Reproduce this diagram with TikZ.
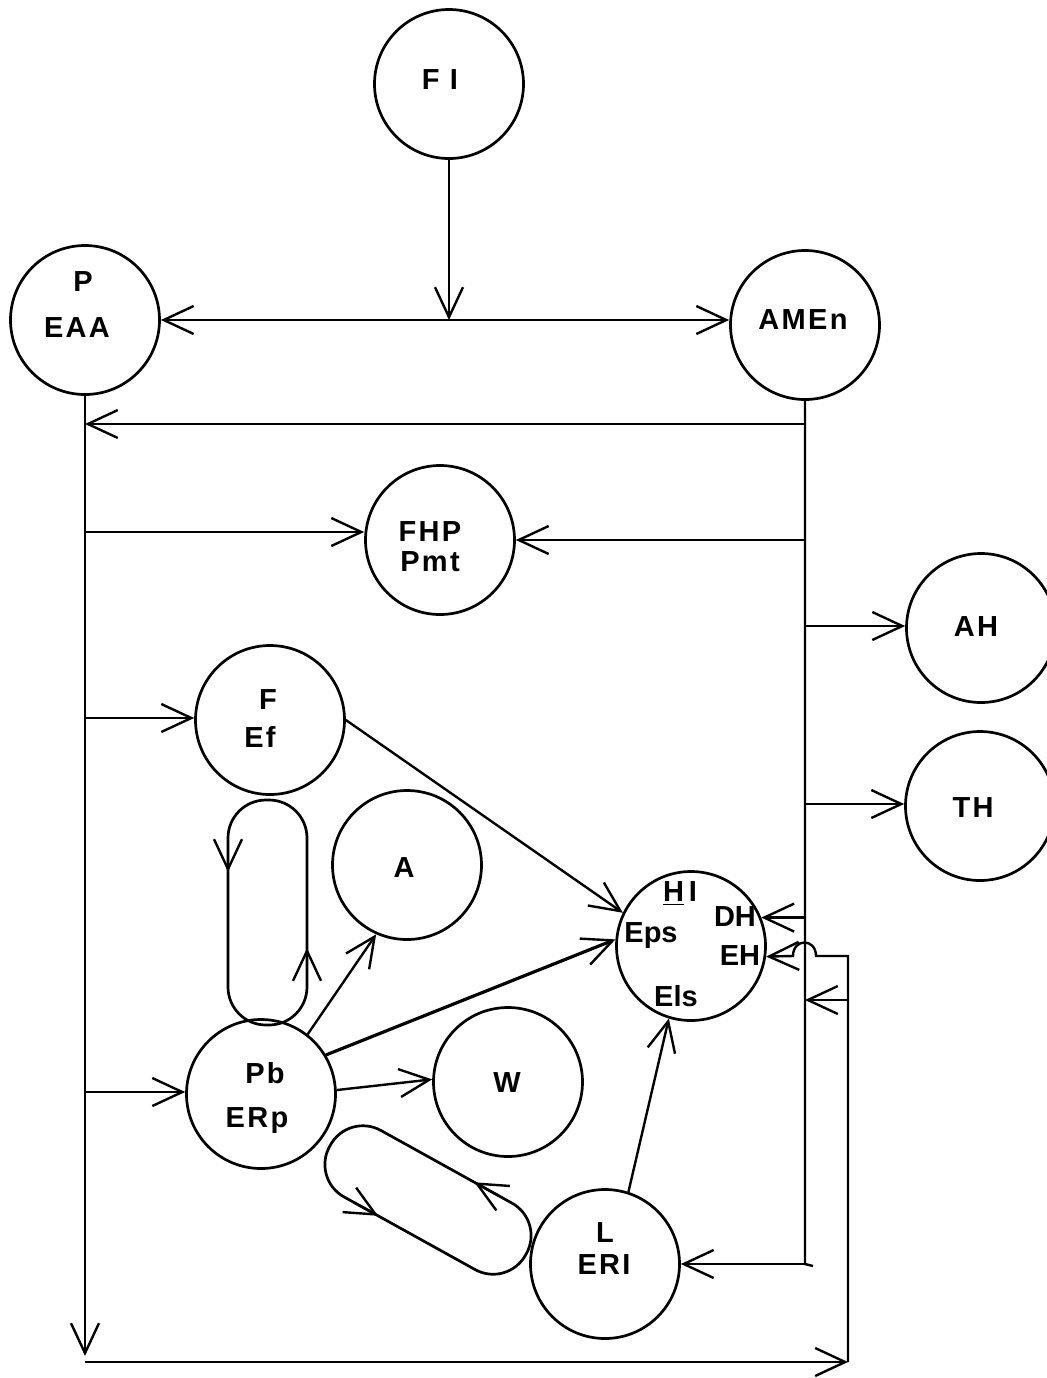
\documentclass[tikz,border=0pt]{standalone}
\usepackage{fontspec}
\setmainfont{Liberation Sans}
\newfontfamily\lsfont[LetterSpace=8]{Liberation Sans}
\usetikzlibrary{arrows.meta,calc}
\begin{document}
\begin{tikzpicture}[x=0.5pt,y=-0.5pt,
  circ/.style={draw,circle,minimum size=74.5pt,inner sep=0pt,line width=1.35pt},
  lab/.style={inner sep=0pt,font=\bfseries\fontsize{14.5}{16}\selectfont},
  slab/.style={inner sep=0pt,font=\lsfont\bfseries\fontsize{14.5}{16}\selectfont},
  ln/.style={line width=1.2pt},
  arr/.style={ln,-{Straight Barb[length=15pt,width=14pt,line width=1.2pt]}},
  arrb/.style={ln,{Straight Barb[length=15pt,width=14pt,line width=1.2pt]}-{Straight Barb[length=15pt,width=14pt,line width=1.2pt]}},
  caps/.style={draw,line width=1.35pt}]
\useasboundingbox (0,0) rectangle (1047,1378);
% circles
\node[circ] (FI) at (449,84) {};
\node[circ] (P) at (85,320) {};
\node[circ] (AMEn) at (805,325) {};
\node[circ] (FHP) at (440,540) {};
\node[circ] (AH) at (981,628) {};
\node[circ] (TH) at (980,806) {};
\node[circ] (F) at (270,720) {};
\node[circ] (A) at (407,865) {};
\node[circ] (HI) at (691,946) {};
\node[circ] (Pb) at (261,1094) {};
\node[circ] (W) at (508,1082) {};
\node[circ] (L) at (605,1264) {};
% labels
\node[slab] (tFI) at (440,80) {F I};
\node[slab] (tP) at (83,282) {P};
\node[slab] (tEAA) at (77,328) {EAA};
\node[slab] (tAMEn) at (803,320) {AMEn};
\node[slab] (tFHP) at (430,532) {FHP};
\node[slab] (tPmt) at (430,562) {Pmt};
\node[slab] (tAH) at (976,627) {AH};
\node[slab] (tTH) at (973,808) {TH};
\node[slab] (tF) at (268,700) {F};
\node[slab] (tEf) at (260,737) {Ef};
\node[slab] (tA) at (404,868) {A};
\node[lab] (tHI) at (680,894) {\underline{H}\,I};
\node[lab] (tDH) at (735,917) {DH};
\node[lab] (tEps) at (651,936) {Eps};
\node[lab] (tEH) at (740,956) {EH};
\node[lab] (tEls) at (676,996) {Els};
\node[slab] (tPb) at (265,1073) {Pb};
\node[slab] (tERp) at (257,1121) {ERp};
\node[slab] (tW) at (507,1083) {W};
\node[slab] (tL) at (605,1233) {L};
\node[slab] (tERI) at (604,1265) {ERI};
% trunk coordinates
\coordinate (lt) at (P.south);
\coordinate (rt) at (AMEn.south);
\coordinate (fij) at (449,320);
\coordinate (lb) at (85,1356);
\coordinate (lc) at (85,1362);
\coordinate (rc) at (848,1362);
\coordinate (ehR) at (848,956);
\coordinate (hopR) at (816,956);
\coordinate (hopL) at (793,956);
\coordinate (o1000) at (848,1000);
\coordinate (rtb) at (805,1264);
\coordinate (r424) at (805,424);
\coordinate (r540) at (805,540);
\coordinate (r625) at (805,626);
\coordinate (r803) at (805,804);
\coordinate (l532) at (85,532);
\coordinate (l718) at (85,718);
\coordinate (l1091) at (85,1092);
% FI to main line
\draw[arr] (FI.south) -- (fij);
\draw[arrb] (P.east) -- (P.east -| AMEn.west);
% left trunk
\draw[arr] (lt) -- (lb);
\draw[arr] (lc) -- (rc);
% right trunk
\draw[ln] (rt) -- (rtb) -- ++(8,2);
\draw[arr] (rtb) -- (L.east);
\draw[arr] (r424) -- (r424 -| lt);
\draw[arr] (r540) -- (r540 -| FHP.east);
\draw[arr] (r625) -- (r625 -| AH.west);
\draw[arr] (r803) -- (r803 -| TH.west);
\draw[arr] (HI.22 -| rt) -- (HI.22);
% left trunk branches
\draw[arr] (l532) -- (l532 -| FHP.west);
\draw[arr] (l718) -- (l718 -| F.west);
\draw[arr] (l1091) -- (l1091 -| Pb.west);
% outer loop on right
\draw[arr] (rc) -- (ehR) -- (hopR) .. controls (816,938) and (793,938) .. (hopL) -- (HI.-8);
\draw[arr] (o1000) -- (o1000 -| rt);
% inner connectors
\draw[arr] (F.east) -- (HI.154);
\draw[arr,line width=1.6pt] (Pb.31) -- (HI.175);
\draw[arr] (Pb.52) -- (A.246);
\draw[arr] (Pb.3) -- (W.178);
\draw[arr] (L.72) -- (HI.253);
% capsule 1
\draw[caps,rounded corners=19pt] (228,800) rectangle (307,1025);
\draw[arr] (228,845) -- (228,872);
\draw[arr] (307,975) -- (307,948);
% capsule 2
\begin{scope}[shift={(428,1200)},rotate=-29]
\draw[caps,rounded corners=18.5pt] (-112,-38) rectangle (112,38);
\draw[arr] (60,-38) -- (32,-38);
\draw[arr] (-64,38) -- (-36,38);
\end{scope}
\end{tikzpicture}
\end{document}
